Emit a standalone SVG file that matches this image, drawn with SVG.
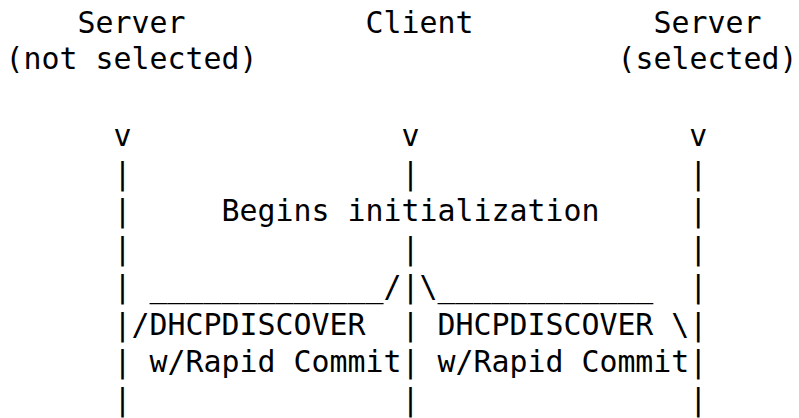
<svg xmlns="http://www.w3.org/2000/svg" width="799" height="418" viewBox="0 0 799 418">
<style>
text{font-family:"DejaVu Sans Mono","Liberation Mono",monospace;font-size:29.9px;fill:#000;white-space:pre}
</style>
<rect width="799" height="418" fill="#fff"/>
<g id="server-not-selected">
<text x="77.5" y="33">Server</text>
<text x="5.5" y="69">(not selected)</text>
</g>
<g id="client">
<text x="365.5" y="33">Client</text>
</g>
<g id="server-selected">
<text x="653.5" y="33">Server</text>
<text x="617.5" y="69">(selected)</text>
</g>
<g id="connectors">
<text x="113.5" y="146">v               v               v</text>
<text x="113.5" y="183.7">|               |               |</text>
<text x="113.5" y="221.4">|     Begins initialization     |</text>
<text x="113.5" y="259.1">|               |               |</text>
<text x="113.5" y="296.8">| _____________/|\____________  |</text>
<text x="113.5" y="334.5">|/DHCPDISCOVER  | DHCPDISCOVER \|</text>
<text x="113.5" y="372.2">| w/Rapid Commit| w/Rapid Commit|</text>
<text x="113.5" y="409.9">|               |               |</text>
</g>
</svg>
